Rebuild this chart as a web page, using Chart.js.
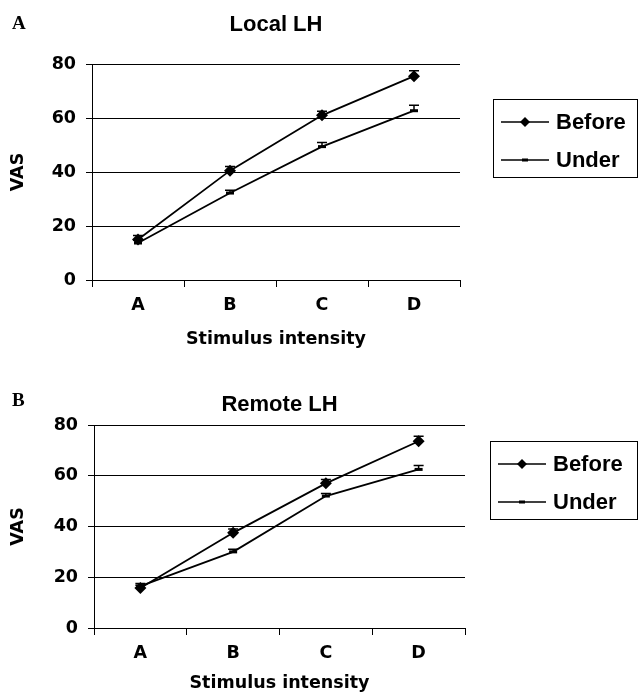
<!DOCTYPE html>
<html>
<head>
<meta charset="utf-8">
<script src="https://cdn.jsdelivr.net/npm/chart.js@4/dist/chart.umd.min.js"></script>
<style>
  body { margin: 0; background: #fff; }
  .panel { position: absolute; left: 0; }
</style>
</head>
<body>
<div class="panel" style="top:0"><canvas id="chart-local" width="641" height="350"></canvas></div>
<div class="panel" style="top:350px"><canvas id="chart-remote" width="641" height="345"></canvas></div>
<script>
const categories = ['A', 'B', 'C', 'D'];
const seriesNames = ['Before', 'Under'];
const yTicks = [0, 20, 40, 60, 80];

// Local LH
const localBefore = [15, 40.5, 61, 75.5];
const localUnder = [13.7, 32.2, 49.4, 62.7];
const localBeforeErr = [1.5, 1.5, 1.5, 2];
const localUnderErr = [1, 1, 1.5, 2];

// Remote LH
const remoteBefore = [15.8, 37.5, 57, 73.6];
const remoteUnder = [16.5, 30, 52, 62.5];
const remoteBeforeErr = [1, 1.5, 1.5, 2];
const remoteUnderErr = [1, 1, 1, 1.5];

const tickFont = { family: 'DejaVu Sans', size: 17.5, weight: 'bold' };
const labelFont = 'Liberation Sans';

// draws panel letter, title, error bars and the boxed legend
const panelDecor = {
    id: 'panelDecor',
    afterDatasetsDraw(chart, args, opts) {
        const ctx = chart.ctx;
        const area = chart.chartArea;
        const xs = chart.scales.x;
        const ys = chart.scales.y;
        ctx.save();

        // error bars (plus direction only)
        ctx.strokeStyle = '#000';
        ctx.lineWidth = 1.5;
        opts.errors.forEach((errs, di) => {
            const data = chart.data.datasets[di].data;
            errs.forEach((e, i) => {
                const x = xs.getPixelForValue(i);
                const y0 = ys.getPixelForValue(data[i]);
                const y1 = ys.getPixelForValue(data[i] + e);
                ctx.beginPath();
                ctx.moveTo(x, y0);
                ctx.lineTo(x, y1);
                ctx.moveTo(x - 5, y1);
                ctx.lineTo(x + 5, y1);
                ctx.stroke();
            });
        });

        // panel letter
        ctx.fillStyle = '#000';
        ctx.textBaseline = 'alphabetic';
        ctx.textAlign = 'left';
        ctx.font = 'bold 19px "Liberation Serif"';
        ctx.fillText(opts.letter, 12, opts.letterY);

        // title centered over the plot
        ctx.textAlign = 'center';
        ctx.font = 'bold 22px "' + labelFont + '"';
        ctx.fillText(opts.title, (area.left + area.right) / 2, opts.titleY);

        // legend
        const lg = opts.legend;
        ctx.lineWidth = 1;
        ctx.strokeRect(lg.x + 0.5, lg.y + 0.5, lg.w, lg.h);
        ctx.font = 'bold 22px "' + labelFont + '"';
        ctx.textAlign = 'left';
        ctx.textBaseline = 'middle';
        chart.data.datasets.forEach((ds, i) => {
            const cy = lg.y + 23 + i * 38;
            ctx.lineWidth = 1.5;
            ctx.beginPath();
            ctx.moveTo(lg.x + 8, cy);
            ctx.lineTo(lg.x + 56, cy);
            ctx.stroke();
            const cx = lg.x + 32;
            if (ds.pointStyle === 'rectRot') {
                ctx.beginPath();
                ctx.moveTo(cx, cy - 5);
                ctx.lineTo(cx + 5, cy);
                ctx.lineTo(cx, cy + 5);
                ctx.lineTo(cx - 5, cy);
                ctx.closePath();
                ctx.fill();
            } else {
                ctx.fillRect(cx - 3, cy - 1.5, 6, 3);
            }
            ctx.fillText(ds.label, lg.x + 63, cy + 1);
        });
        ctx.restore();
    }
};

function makeChart(id, before, under, errs, cfg) {
    const ctx = document.getElementById(id);
    return new Chart(ctx, {
        type: 'line',
        data: {
            labels: categories,
            datasets: [{
                label: seriesNames[0],
                data: before,
                borderColor: '#000',
                backgroundColor: '#000',
                borderWidth: 1.8,
                pointStyle: 'rectRot',
                pointRadius: 6,
                pointBorderWidth: 0,
                tension: 0
            }, {
                label: seriesNames[1],
                data: under,
                borderColor: '#000',
                backgroundColor: '#000',
                borderWidth: 1.8,
                pointStyle: 'line',
                pointRadius: 4,
                pointBorderWidth: 3,
                tension: 0
            }]
        },
        options: {
            responsive: false,
            animation: false,
            layout: { padding: { top: cfg.top, right: cfg.right, left: 0, bottom: 0 } },
            plugins: {
                legend: { display: false },
                tooltip: { enabled: false },
                panelDecor: {
                    letter: cfg.letter,
                    letterY: cfg.letterY,
                    title: cfg.title,
                    titleY: cfg.titleY,
                    legend: cfg.legend,
                    errors: errs
                }
            },
            scales: {
                x: {
                    offset: true,
                    afterFit: s => { s.height = cfg.xHeight; },
                    grid: { offset: true, drawOnChartArea: false, drawTicks: true, tickLength: 7, color: '#000' },
                    border: { display: true, color: '#000', width: 1 },
                    ticks: { color: '#000', font: tickFont, padding: 8 },
                    title: { display: true, text: 'Stimulus intensity', color: '#000', font: tickFont, padding: { top: 0, bottom: cfg.xTitlePad } }
                },
                y: {
                    min: 0,
                    max: 80,
                    afterFit: s => { s.width = cfg.yWidth; },
                    afterBuildTicks: s => { s.ticks = yTicks.map(v => ({ value: v })); },
                    grid: { color: '#000', lineWidth: 1, drawTicks: true, tickLength: 6 },
                    border: { display: true, color: '#000', width: 1 },
                    ticks: { color: '#000', font: tickFont, padding: 10 },
                    title: { display: true, text: 'VAS', color: '#000', font: tickFont, padding: { top: 8, bottom: 0 } }
                }
            }
        },
        plugins: [panelDecor]
    });
}

makeChart('chart-local', localBefore, localUnder, [localBeforeErr, localUnderErr], {
    letter: 'A', letterY: 29, title: 'Local LH', titleY: 31,
    top: 64, right: 181, xHeight: 70, yWidth: 92, xTitlePad: 0,
    legend: { x: 493, y: 99, w: 144, h: 78 }
});

makeChart('chart-remote', remoteBefore, remoteUnder, [remoteBeforeErr, remoteUnderErr], {
    letter: 'B', letterY: 56, title: 'Remote LH', titleY: 61,
    top: 75, right: 176, xHeight: 67, yWidth: 94, xTitlePad: 1,
    legend: { x: 490, y: 91, w: 147, h: 78 }
});
</script>
</body>
</html>
